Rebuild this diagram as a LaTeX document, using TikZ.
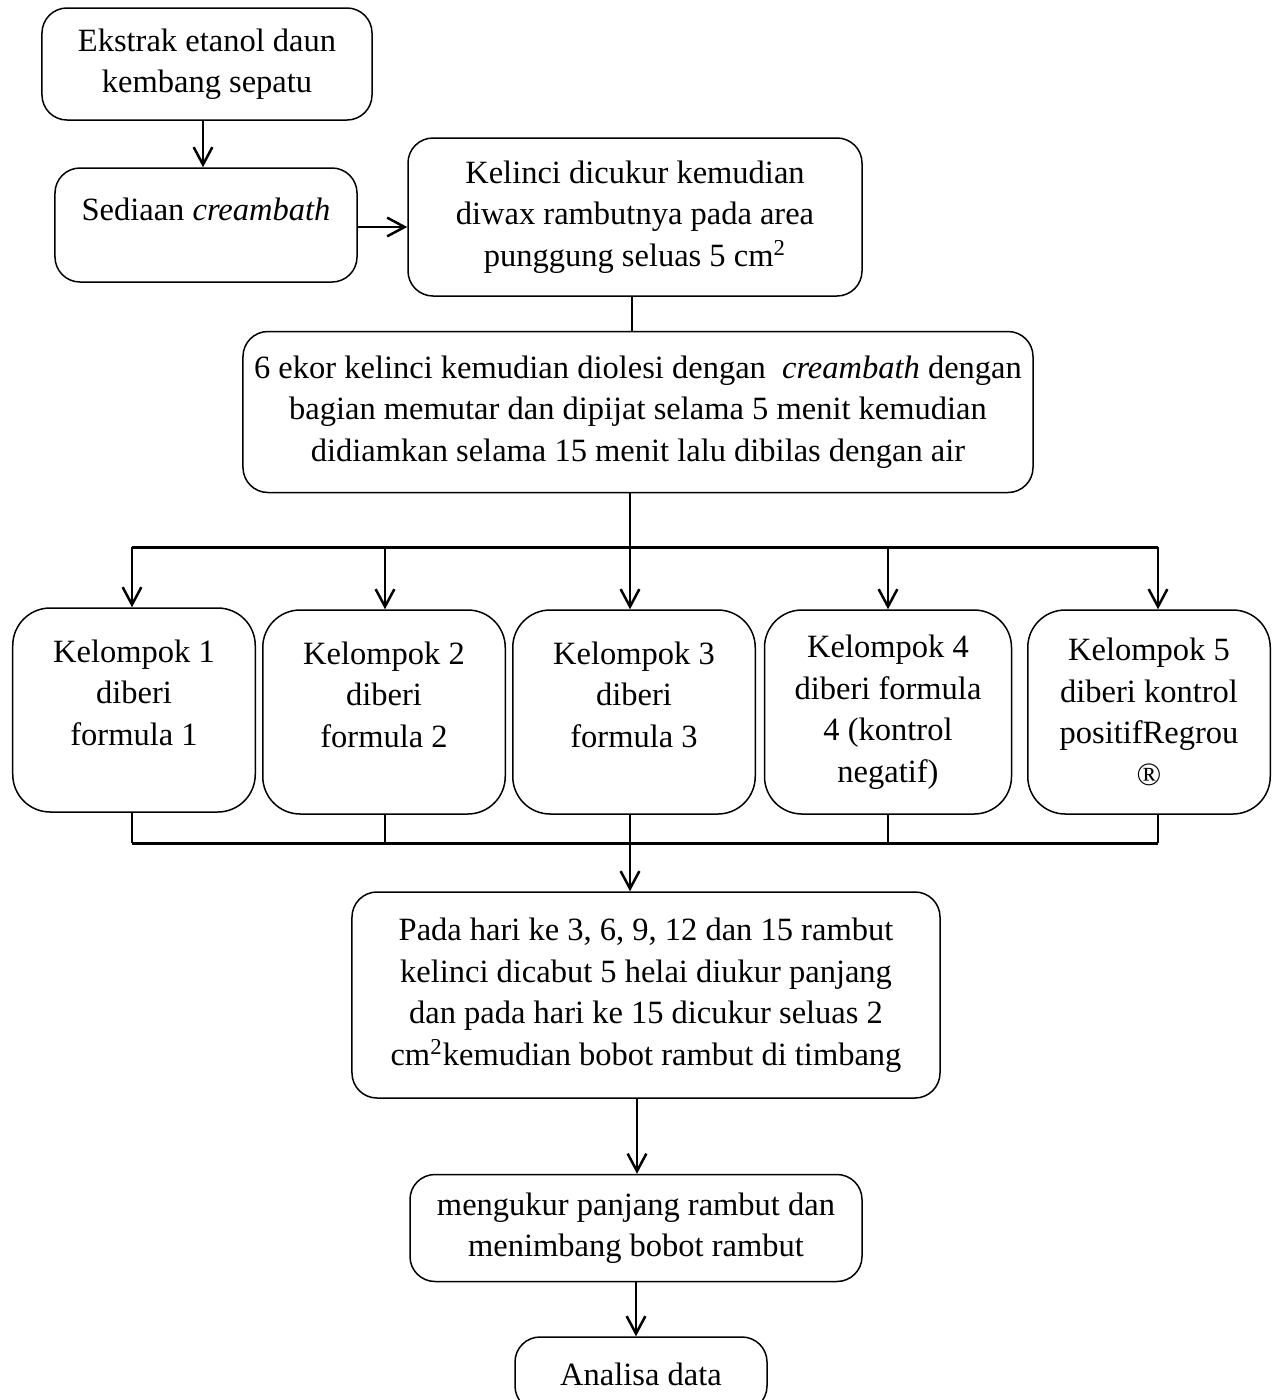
\documentclass[tikz,border=0pt]{standalone}
\usepackage{fontspec}
\setmainfont{Liberation Serif}
\usetikzlibrary{arrows.meta}

\tikzstyle{box}=[rectangle,draw,rounded corners=10pt,align=center,inner sep=0pt,line width=0.6pt]
\tikzstyle{group}=[box,rounded corners=15pt,minimum width=97pt,minimum height=81.6pt]
\tikzstyle{line}=[draw,line width=1pt,-]

\begin{document}
\begin{tikzpicture}[->, >={Straight Barb[length=7pt,width=7.5pt]}, x=0.4pt, y=-0.4pt,
    font=\fontsize{13pt}{16.6pt}\selectfont]
		\useasboundingbox (0,0) rectangle (1275,1400);
		\node [box, minimum width=132pt, minimum height=44.8pt]   (ekstrak) at (207,64)  {Ekstrak etanol daun\\kembang sepatu};
		\node [box, minimum width=120.8pt, minimum height=45.6pt, text depth=13pt] (sediaan) at (206,225) {Sediaan \textit{creambath}};
		\node [box, minimum width=181.6pt, minimum height=63.2pt] (cukur)   at (635,217) {Kelinci dicukur kemudian\\diwax rambutnya pada area\\punggung seluas 5 cm\textsuperscript{2}};
		\node [box, minimum width=316pt, minimum height=64.4pt]   (oles)    at (638,412) {6 ekor kelinci kemudian diolesi dengan\ \ \textit{creambath} dengan\\bagian memutar dan dipijat selama 5 menit kemudian\\didiamkan selama 15 menit lalu dibilas dengan air};
		\node [group, text depth=14pt] (k1) at (134,710) {Kelompok 1\\diberi\\formula 1};
		\node [group, text depth=14pt] (k2) at (384,712) {Kelompok 2\\diberi\\formula 2};
		\node [group, text depth=14pt] (k3) at (634,712) {Kelompok 3\\diberi\\formula 3};
		\node [group, minimum width=98.8pt] (k4) at (888,712) {Kelompok 4\\diberi formula\\4 (kontrol\\negatif)};
		\node [group] (k5) at (1149,712) {Kelompok 5\\diberi kontrol\\positifRegrou\\®};
		\node [box, minimum width=235.2pt, minimum height=82.4pt] (pada)    at (646,995)  {Pada hari ke 3, 6, 9, 12 dan 15 rambut\\kelinci dicabut 5 helai diukur panjang\\dan pada hari ke 15 dicukur seluas 2\\cm\textsuperscript{2}kemudian bobot rambut di timbang};
		\node [box, minimum width=180.8pt, minimum height=42.8pt] (ukur)    at (636,1228) {mengukur panjang rambut dan\\menimbang bobot rambut};
		\node [box, minimum width=100.8pt, minimum height=29.6pt] (analisa) at (641,1374) {Analisa data};

		\coordinate (split) at (630,547);
		\coordinate (t1) at (132,547);
		\coordinate (t2) at (385,547);
		\coordinate (t3) at (630,547);
		\coordinate (t4) at (888,547);
		\coordinate (t5) at (1158,547);
		\coordinate (u1) at (132,843);
		\coordinate (u2) at (385,843);
		\coordinate (u3) at (630,843);
		\coordinate (u4) at (888,843);
		\coordinate (u5) at (1158,843);

		\draw [line,->] (ekstrak.south -| 203,0) -- (sediaan.north -| 203,0);
		\draw [line,->] (sediaan.east |- 0,227) -- (cukur.west |- 0,227);
		\draw [line]    (cukur.south -| 632,0) -- (oles.north -| 632,0);
		\draw [line]    (oles.south -| split) -- (split);
		\draw [line, line width=1.2pt] (t1) -- (t5);
		\draw [line,->] (t1) -- (t1 |- k1.north);
		\draw [line,->] (t2) -- (t2 |- k2.north);
		\draw [line,->] (t3) -- (t3 |- k3.north);
		\draw [line,->] (t4) -- (t4 |- k4.north);
		\draw [line,->] (t5) -- (t5 |- k5.north);
		\draw [line]    (k1.south -| u1) -- (u1);
		\draw [line]    (k2.south -| u2) -- (u2);
		\draw [line]    (k3.south -| u3) -- (u3);
		\draw [line]    (k4.south -| u4) -- (u4);
		\draw [line]    (k5.south -| u5) -- (u5);
		\draw [line, line width=1.2pt] (u1) -- (u5);
		\draw [line,->] (u3) -- (u3 |- pada.north);
		\draw [line,->] (pada.south -| 637,0) -- (ukur.north -| 637,0);
		\draw [line,->] (ukur.south) -- (ukur.south |- analisa.north);
	\end{tikzpicture}
\end{document}
